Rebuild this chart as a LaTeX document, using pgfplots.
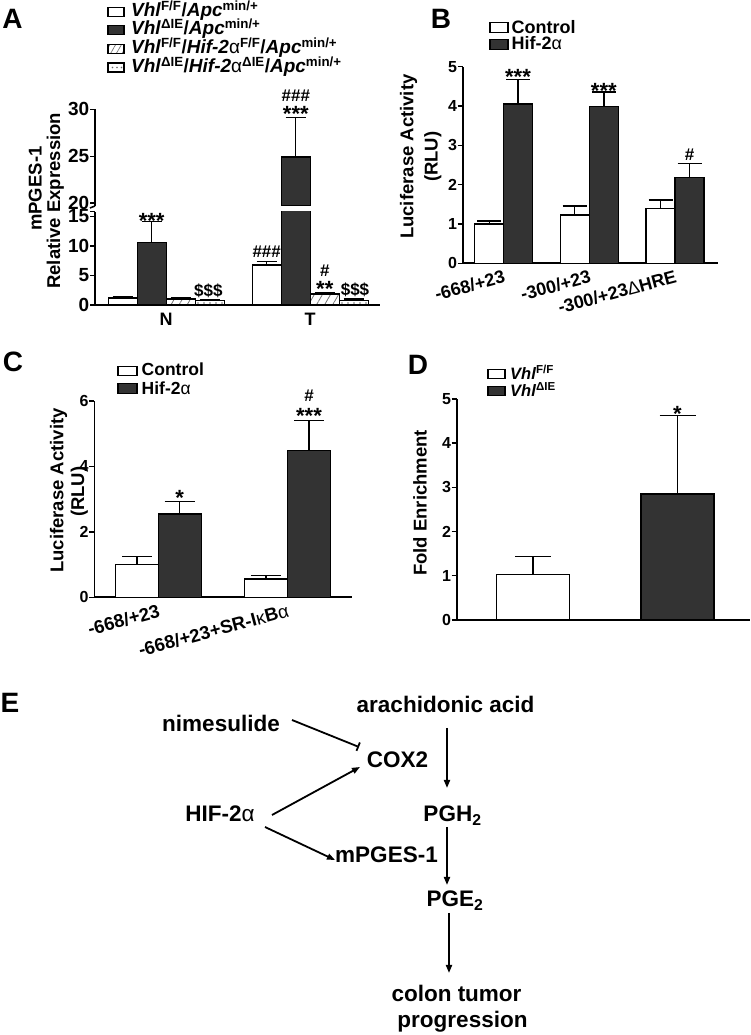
\documentclass[border=0pt]{standalone}
\usepackage{fontspec}
\setmainfont{Liberation Sans}
\usepackage{pgfplots}
\pgfplotsset{compat=1.18}
\usetikzlibrary{patterns,patterns.meta,arrows.meta}
\definecolor{darkbar}{HTML}{333333}
\newcommand{\fs}[1]{\fontsize{#1}{#1}\selectfont}
\newcommand{\up}[1]{\textsuperscript{#1}}

\pgfplotsset{
  panel/.style={
    scale only axis, clip=true,
    axis x line*=bottom, axis y line*=left,
    axis line style={line width=1.6pt,-},
    every tick/.style={line width=1.4pt,black},
    major tick length=5pt, tick align=outside,
    xtick style={draw=none},
    /pgf/number format/assume math mode=true,
    yticklabel style={inner sep=0.5pt,font=\bfseries\fs{16}},
    xticklabel style={font=\bfseries\fs{18}},
  },
  barw/.style={ybar,bar shift=0pt,fill=white,draw=black,line width=1.4pt},
  bard/.style={ybar,bar shift=0pt,fill=darkbar,draw=black,line width=1.4pt},
  barh/.style={ybar,bar shift=0pt,draw=black,line width=1.4pt,
     pattern={Lines[angle=60,distance=7pt,line width=0.8pt]},pattern color=black!55},
  bart/.style={ybar,bar shift=0pt,draw=black,line width=1.4pt,
     pattern={Dots[distance=6pt,radius=0.8pt]},pattern color=black!55},
  errs/.style={error bars/y dir=plus,error bars/y explicit,
     error bars/error bar style={line width=1.4pt,black},
     error bars/error mark options={rotate=90,line width=1.4pt,black,mark size=#1}},
}

\begin{document}
\begin{tikzpicture}[x=1pt,y=1pt]
\useasboundingbox (0,0) rectangle (750,1035);

% ================= Panel A (broken axis) =================
\begin{axis}[panel, at={(95pt,730pt)}, anchor=south west,
  width=285pt, height=93.3pt,
  xmin=0, xmax=285, ymin=0, ymax=15.8,
  ytick={0,5,10,15},
  yticklabel style={font=\bfseries\fs{19}},
  xtick={71.2,215.2}, xticklabels={N,T},
  xticklabel style={font=\bfseries\fs{18}}]
\addplot[barw, bar width=29pt, errs=10pt] coordinates {(27.7,1.15) +- (0,0.3) (171.7,6.8) +- (0,0.6)};
\addplot[bard, bar width=29pt, errs=10pt] coordinates {(56.7,10.6) +- (0,3.5) (200.7,24.9) +- (0,4.25)};
\addplot[barh, bar width=29pt, errs=10pt] coordinates {(85.7,1.0) +- (0,0.3) (229.7,1.85) +- (0,0.3)};
\addplot[bart, bar width=29pt, errs=10pt] coordinates {(114.7,0.75) +- (0,0.15) (258.7,0.75) +- (0,0.25)};
\end{axis}

\begin{axis}[panel, at={(95pt,829pt)}, anchor=south west,
  width=285pt, height=96.7pt,
  xmin=0, xmax=285, ymin=19.7, ymax=30,
  axis x line=none,
  ytick={20,25,30},
  yticklabel style={font=\bfseries\fs{19}}]
\addplot[bard, bar width=29pt, errs=10pt] coordinates {(200.7,24.9) +- (0,4.25)};
\end{axis}
% break marks
\draw[line width=1.6pt] (95,829) -- (90,827);
\draw[line width=1.6pt] (95,823.3) -- (90,823.3);

% ================= Panel B =================
\begin{axis}[panel, at={(462.7pt,771.7pt)}, anchor=south west,
  width=255.3pt, height=196.6pt,
  xmin=0, xmax=255.3, ymin=0, ymax=5,
  ytick={0,1,2,3,4,5},
  xtick={40.8,126.6,212.3},
  xticklabels={-668/+23,-300/+23,-300/+23{\mdseries Δ}HRE},
  xticklabel style={rotate=15,anchor=north east,inner sep=1pt,font=\bfseries\fs{18}}]
\addplot[barw, bar width=29pt, errs=12pt] coordinates {(26.5,1.0) +- (0,0.08) (112,1.23) +- (0,0.23) (197.8,1.40) +- (0,0.21)};
\addplot[bard, bar width=29pt, errs=12pt] coordinates {(55.3,4.05) +- (0,0.63) (141.1,3.98) +- (0,0.38) (226.8,2.18) +- (0,0.36)};
\end{axis}

% ================= Panel C =================
\begin{axis}[panel, at={(94.3pt,437.7pt)}, anchor=south west,
  width=257.4pt, height=196.3pt,
  xmin=0, xmax=257.4, ymin=0, ymax=6,
  ytick={0,2,4,6},
  xtick={64,193},
  xticklabels={-668/+23,-668/+23+SR-I{\mdseries κ}B{\mdseries α}},
  xticklabel style={rotate=15,anchor=north east,inner sep=1pt,font=\bfseries\fs{18.5}}]
\addplot[barw, bar width=43pt, errs=15pt] coordinates {(42.7,1.0) +- (0,0.24) (171.5,0.56) +- (0,0.11)};
\addplot[bard, bar width=43pt, errs=15pt] coordinates {(85.4,2.55) +- (0,0.38) (214.7,4.48) +- (0,0.92)};
\end{axis}

% ================= Panel D =================
\begin{axis}[panel, at={(456.7pt,415pt)}, anchor=south west,
  width=293.3pt, height=221pt,
  xmin=0, xmax=293.3, ymin=0, ymax=5,
  ytick={0,1,2,3,4,5}, xtick=\empty]
\addplot[barw, bar width=73pt, errs=18pt] coordinates {(76.3,1.03) +- (0,0.40)};
\addplot[bard, bar width=73pt, errs=18pt] coordinates {(220.8,2.85) +- (0,1.77)};
\end{axis}

% ================= Legends =================
\begin{scope}[line width=1.3pt]
% A
\draw[fill=white] (108,1018.5) rectangle (124,1027.5);
\draw[fill=darkbar] (108,1000.2) rectangle (124,1009.2);
\draw[pattern={Lines[angle=60,distance=5pt,line width=0.7pt]},pattern color=black!55] (108,981.5) rectangle (124,990.5);
\draw[pattern={Dots[distance=4.5pt,radius=0.8pt]},pattern color=black!60] (108,963) rectangle (124,972);
% B
\draw[fill=white] (490,1002.3) rectangle (508,1012.3);
\draw[fill=darkbar] (490,985.5) rectangle (508,995.5);
% C
\draw[fill=white] (118,659.3) rectangle (137,668.7);
\draw[fill=darkbar] (118,641.8) rectangle (137,651.2);
% D
\draw[fill=white] (488,656.8) rectangle (505,665.2);
\draw[fill=darkbar] (488,639.8) rectangle (505,648.2);
\end{scope}
\begin{scope}[every node/.style={anchor=base west,inner sep=0pt,font=\bfseries\fs{19}}]
\node at (131,1018.3) {\textit{Vhl}\up{F/F}/\textit{Apc}\up{min/+}};
\node at (131,1000) {\textit{Vhl}\up{ΔIE}/\textit{Apc}\up{min/+}};
\node at (131,981) {\textit{Vhl}\up{F/F}/\textit{Hif-2}{\mdseries α}\up{F/F}/\textit{Apc}\up{min/+}};
\node at (131,962.3) {\textit{Vhl}\up{ΔIE}/\textit{Hif-2}{\mdseries α}\up{ΔIE}/\textit{Apc}\up{min/+}};
\end{scope}
\begin{scope}[every node/.style={anchor=base west,inner sep=0pt,font=\bfseries\fs{18}}]
\node at (511.5,1001.7) {Control};
\node at (511.5,985) {Hif-2{\mdseries α}};
\end{scope}
\begin{scope}[every node/.style={anchor=base west,inner sep=0pt,font=\bfseries\fs{17.5}}]
\node at (141.5,659) {Control};
\node at (141.5,640) {Hif-2{\mdseries α}};
\end{scope}
\begin{scope}[every node/.style={anchor=base west,inner sep=0pt,font=\bfseries\fs{16.5}}]
\node at (510,655) {\textit{Vhl}\up{F/F}};
\node at (510,638.3) {\textit{Vhl}\up{ΔIE}};
\end{scope}

% ================= Panel letters =================
\begin{scope}[every node/.style={anchor=base,inner sep=0pt,font=\bfseries\fs{28}}]
\node at (12.5,1006.7) {A};
\node at (441,1006.7) {B};
\node at (13,663.3) {C};
\node at (418,660) {D};
\node at (10,322) {E};
\end{scope}

% ================= Axis titles =================
\begin{scope}[every node/.style={rotate=90,anchor=base,inner sep=0pt,font=\bfseries\fs{18.5}}]
\node at (41.7,846.3) {mPGES-1};
\node at (60,834.2) {Relative Expression};
\node at (413.3,878.3) {Luciferase Activity};
\node at (437.5,878.3) {(RLU)};
\node at (63.3,544.5) {Luciferase Activity};
\node at (84,543.3) {(RLU)};
\node at (426.7,532) {Fold Enrichment};
\end{scope}

% ================= Significance marks =================
\begin{scope}[every node/.style={anchor=base,inner sep=0pt,font=\bfseries\fs{22}}]
\node at (151.7,806.2) {***};
\node at (295.8,913) {***};
\node at (324.8,738.2) {**};
\node at (518,950) {***};
\node at (603.8,936.7) {***};
\node at (179.7,529) {*};
\node at (309,611.4) {***};
\node at (677.5,613.2) {*};
\end{scope}
\begin{scope}[every node/.style={anchor=base,inner sep=0pt,font=\bfseries\fs{17}}]
\node at (208.3,738.3) {\$\$\$};
\node at (266.7,777.3) {\#\#\#};
\node at (295.8,933.3) {\#\#\#};
\node at (324.8,758.2) {\#};
\node at (355,739) {\$\$\$};
\node at (689.5,874) {\#};
\node at (309,633.2) {\#};
\end{scope}

% ================= Panel E scheme =================
\begin{scope}[every node/.style={anchor=base,inner sep=0pt,font=\bfseries\fs{22.5}}]
\node at (445.5,322) {arachidonic acid};
\node at (221,303.3) {nimesulide};
\node at (397.5,267.7) {COX2};
\node at (220,213.3) {HIF-2{\mdseries α}};
\node at (452.5,213.3) {PGH\textsubscript{2}};
\node at (386.5,172.3) {mPGES-1};
\node at (455,128.3) {PGE\textsubscript{2}};
\node at (456.5,33.3) {colon tumor};
\node at (462.5,7) {progression};
\end{scope}
\begin{scope}[line width=1.8pt]
\draw[-{Bar[width=9pt,line width=1.8pt]}] (292,315) -- (359,288);
\draw[-{Triangle[length=8pt,width=6pt]}] (272,220) -- (360,268);
\draw[-{Triangle[length=8pt,width=6pt]}] (265,208) -- (335,175);
\draw[-{Triangle[length=8pt,width=6pt]}] (447,307) -- (447,247);
\draw[-{Triangle[length=8pt,width=6pt]}] (447,208) -- (447,150);
\draw[-{Triangle[length=8pt,width=6pt]}] (449,122) -- (449,62);
\end{scope}
\end{tikzpicture}
\end{document}
